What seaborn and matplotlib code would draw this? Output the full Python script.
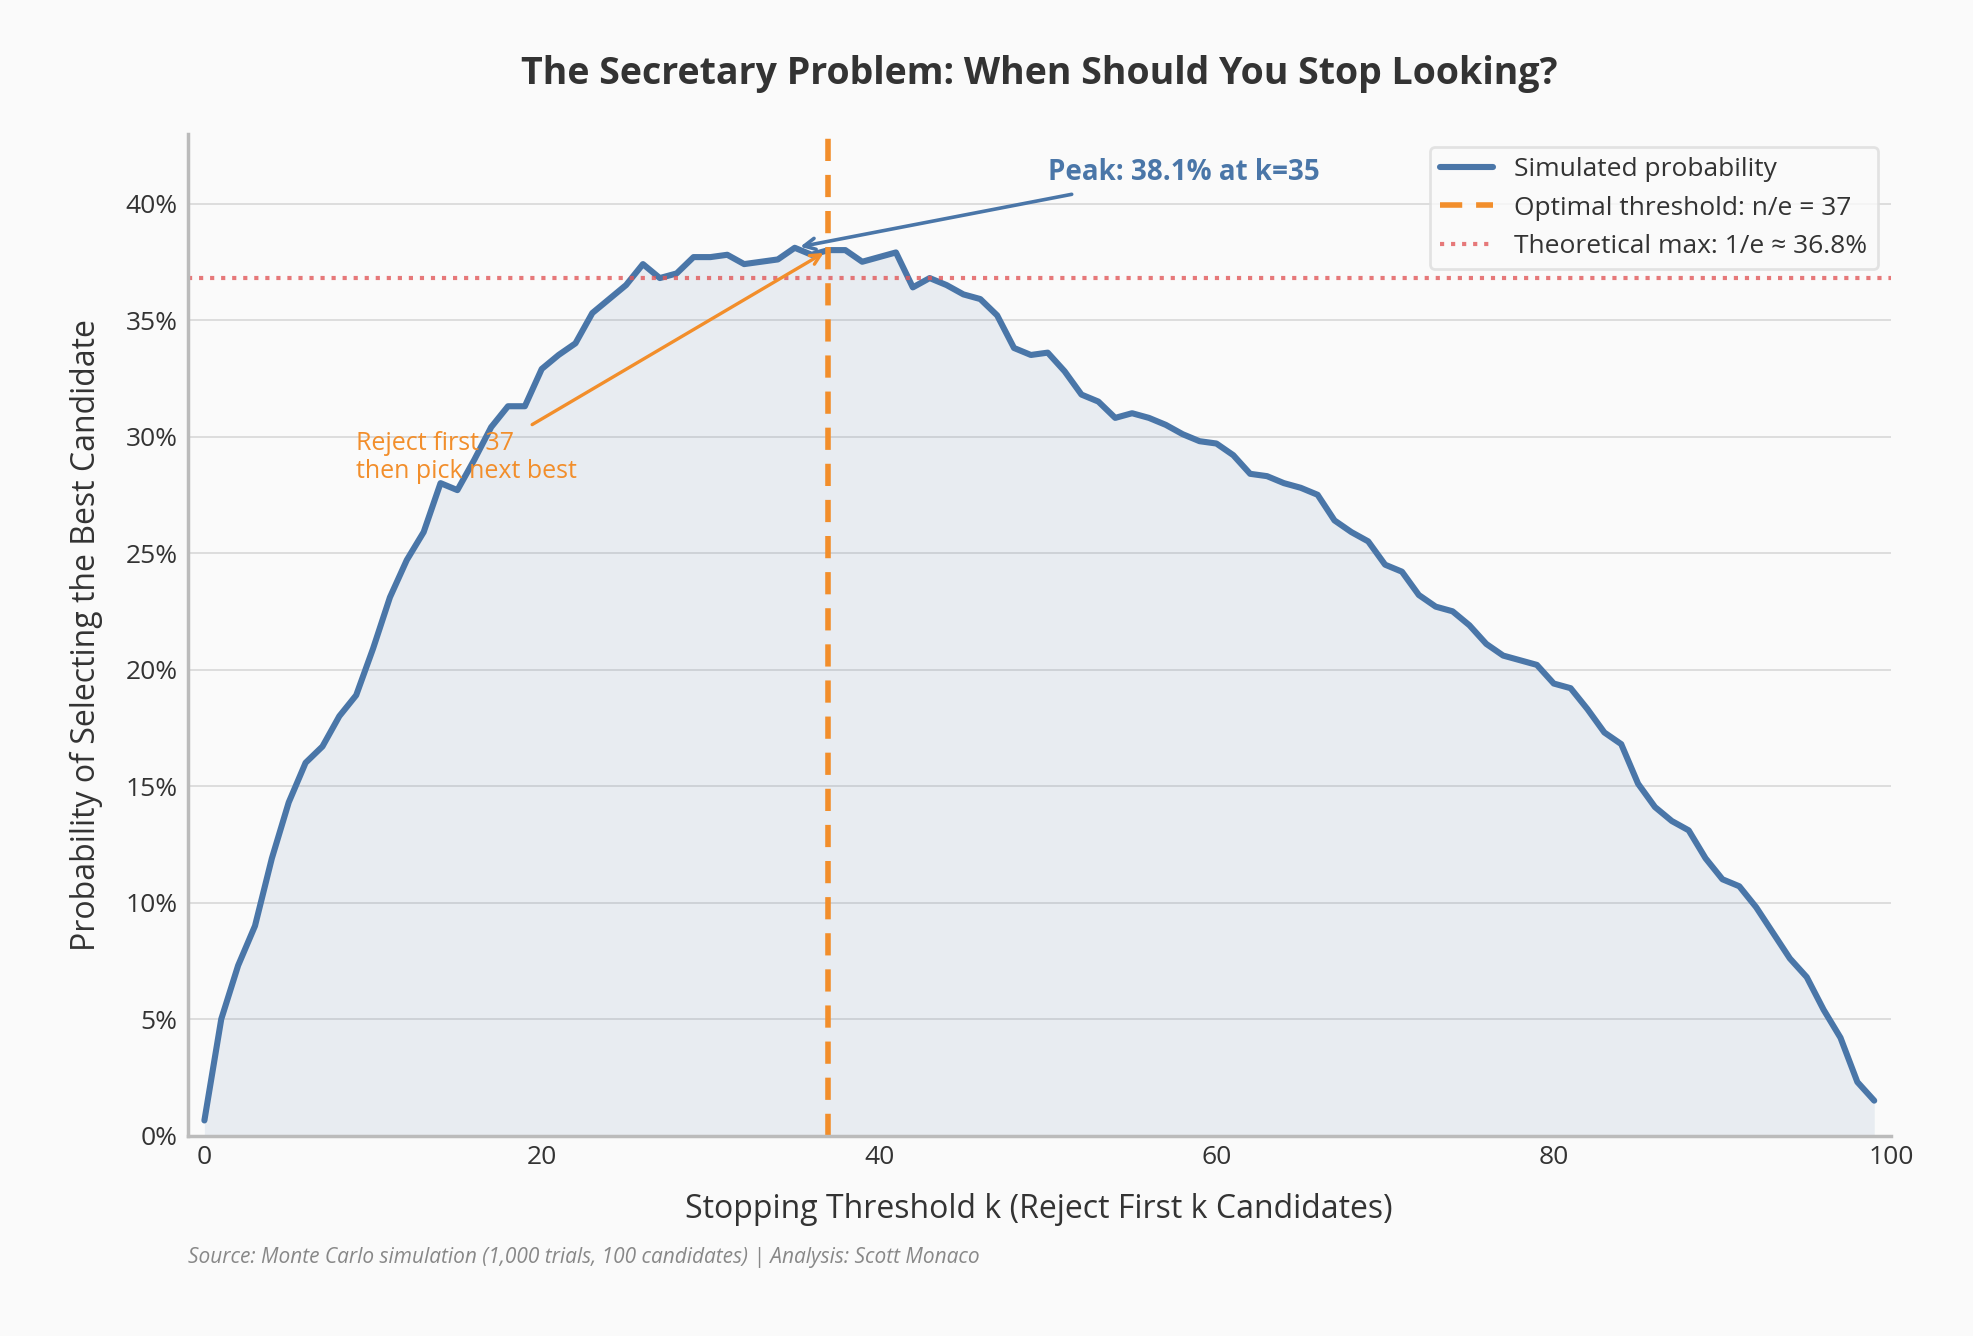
import numpy as np
import pandas as pd
import seaborn as sns
import matplotlib.pyplot as plt
from matplotlib.ticker import FuncFormatter

k_values = list(range(100))
prob_pct = [0.65,5.0,7.3,9.0,11.9,14.3,16.0,16.7,18.0,18.9,
            20.9,23.1,24.7,25.9,28.0,27.7,29.0,30.4,31.3,31.3,
            32.9,33.5,34.0,35.3,35.9,36.5,37.4,36.8,37.0,37.7,
            37.7,37.8,37.4,37.5,37.6,38.1,37.8,38.0,38.0,37.5,
            37.7,37.9,36.4,36.8,36.5,36.1,35.9,35.2,33.8,33.5,
            33.6,32.8,31.8,31.5,30.8,31.0,30.8,30.5,30.1,29.8,
            29.7,29.2,28.4,28.3,28.0,27.8,27.5,26.4,25.9,25.5,
            24.5,24.2,23.2,22.7,22.5,21.9,21.1,20.6,20.4,20.2,
            19.4,19.2,18.3,17.3,16.8,15.1,14.1,13.5,13.1,11.9,
            11.0,10.7,9.8,8.7,7.6,6.8,5.4,4.2,2.3,1.5]
optimal_k = 37
theory_max = 100/np.e
peak_k = 35
peak_val = 38.1

df = pd.DataFrame({"k": k_values, "p": prob_pct})

sns.set_theme(style="whitegrid")
plt.rcParams['font.family'] = ['Open Sans', 'DejaVu Sans']
blue = "#4a76a8"; orange = "#f28e2b"; red = "#e15759"

fig, ax = plt.subplots(figsize=(9.87, 6.68), dpi=200)
fig.patch.set_facecolor("#fafafa")
ax.set_facecolor("#fafafa")

ax.fill_between(df.k, df.p, color=blue, alpha=0.1, lw=0)
sns.lineplot(data=df, x="k", y="p", ax=ax, color=blue, lw=2.2, label="Simulated probability")
ax.axvline(optimal_k, color=orange, ls=(0,(4,2.5)), lw=2, label=f"Optimal threshold: n/e = {optimal_k}")
ax.axhline(theory_max, color=red, ls=":", lw=1.5, alpha=0.8, label="Theoretical max: 1/e ≈ 36.8%")

ax.set_xlim(-1, 100)
ax.set_ylim(0, 43)
ax.yaxis.set_major_formatter(FuncFormatter(lambda v, _: f"{v:.0f}%"))
ax.set_yticks(range(0, 41, 5))
ax.grid(axis="x", visible=False)
ax.grid(axis="y", color="#dddddd", lw=0.7)
for s in ["top", "right"]:
    ax.spines[s].set_visible(False)
for s in ["left", "bottom"]:
    ax.spines[s].set_color("#bbbbbb")
ax.tick_params(labelsize=9.5, colors="#333333", length=0)

ax.set_xlabel("Stopping Threshold k (Reject First k Candidates)", fontsize=11.5, color="#333333", labelpad=8)
ax.set_ylabel("Probability of Selecting the Best Candidate", fontsize=11.5, color="#333333", labelpad=8)
ax.set_title("The Secretary Problem: When Should You Stop Looking?", fontsize=13.5, fontweight="bold", color="#333333", pad=18)

ax.annotate(f"Peak: {peak_val}% at k={peak_k}", xy=(peak_k, peak_val), xytext=(50, 41),
            fontsize=10, fontweight="bold", color=blue,
            arrowprops=dict(arrowstyle="->", color=blue, lw=1.3))
ax.annotate(f"Reject first {optimal_k}\nthen pick next best", xy=(optimal_k, 38), xytext=(9, 28.2),
            fontsize=9, color=orange,
            arrowprops=dict(arrowstyle="->", color=orange, lw=1.2, shrinkA=0, relpos=(0.75, 1.0)))

leg = ax.legend(loc="upper right", fontsize=9.5, frameon=True, facecolor="#fafafa", edgecolor="#dddddd")
for t in leg.get_texts():
    t.set_color("#333333")

fig.text(0.095, 0.055, "Source: Monte Carlo simulation (1,000 trials, 100 candidates) | Analysis: Scott Monaco",
         fontsize=7.5, style="italic", color="#888888")
fig.subplots_adjust(left=0.095, right=0.958, top=0.9, bottom=0.15)
fig.savefig("out.png", dpi=200, facecolor=fig.get_facecolor())
